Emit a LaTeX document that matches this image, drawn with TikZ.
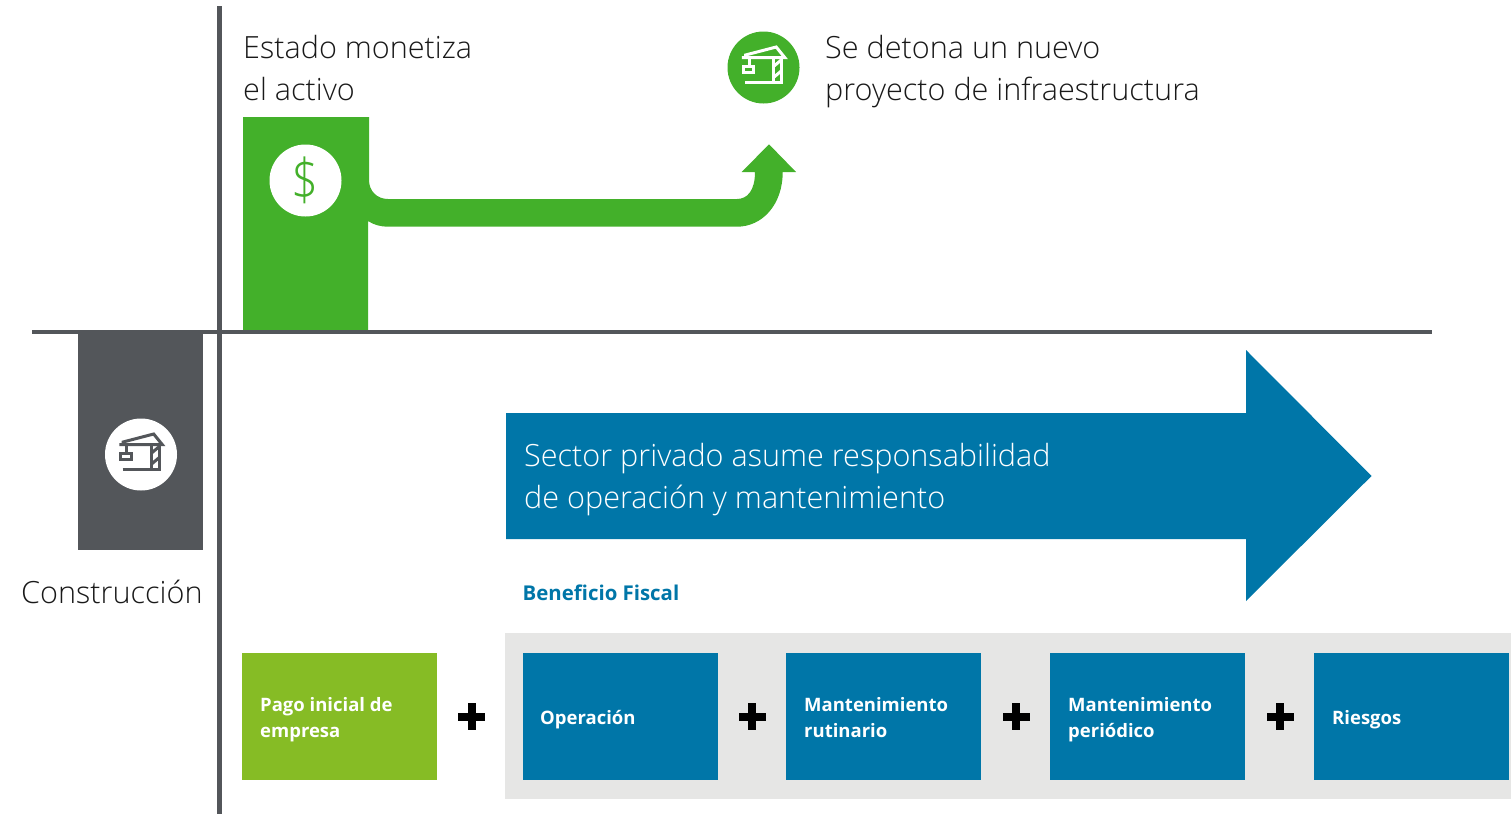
\documentclass[tikz,border=0pt]{standalone}
\usepackage{graphicx}
\usepackage{fontspec}
\setmainfont{Open Sans}
\newfontfamily\lightf{Open Sans Light}
\definecolor{grn}{HTML}{43B02A}
\definecolor{lime}{HTML}{86BC25}
\definecolor{blu}{HTML}{0076A8}
\definecolor{drk}{HTML}{53565A}
\definecolor{pnl}{HTML}{E6E6E5}
\tikzset{
  x=1pt,y=-1pt,
  bigtxt/.style={anchor=base west,inner sep=0pt,align=left,font=\fontsize{30.6}{42}\selectfont\lightf,text=black!90},
  whitetxt/.style={text=white},
  boxtxt/.style={fill=#1,minimum width=195pt,minimum height=127pt,inner sep=0pt,anchor=north west},
  boxlabel/.style={anchor=base west,inner sep=0pt,align=left,text=white,font=\fontsize{18.5}{26}\selectfont\bfseries},
  disc/.style={circle,minimum size=72pt,inner sep=0pt,fill=#1},
  crane/.pic={
    \begin{scope}[draw=#1,line width=3pt,line join=miter]
      \draw (-21.7,-10) -- (21.2,-10) -- (12.7,-20.5) -- (-18,-12.5) -- (-18,-10);
      \draw (10,-10) -- (10,14.7);
      \draw (18.3,-10) -- (18.3,16);
      \draw (-18.3,14.7) -- (19.5,14.7);
      \draw (-14.3,-10) -- (-14.3,-2.7);
      \draw (-20.2,-1.2) rectangle (-9.8,5.2);
      \draw (10,-1) -- (18.3,-8);
      \draw (10,10) -- (18.3,3);
    \end{scope}
  },
  plussign/.pic={
    \fill[black] (-13.5,-4.5) rectangle (13.5,3.5);
    \fill[black] (-4,-14) rectangle (4,13);
  }
}
\begin{document}
\begin{tikzpicture}
\useasboundingbox (0,0) rectangle (1511,814);
% green arrow
\fill[grn] (243,117) -- (369,117) -- (369,180)
  .. controls (369,191) and (377,199) .. (388,199)
  -- (737,199) .. controls (747,199) and (755,191) .. (755,172)
  -- (741.7,172) -- (769,144.3) -- (796,172) -- (782.7,172)
  .. controls (782.7,205) and (762,226.7) .. (737,226.7)
  -- (388,226.7) .. controls (381,226.7) and (374,225) .. (368,221)
  -- (368,331) -- (243,331) -- cycle;
\node[disc=white] (dollar) at (305.5,180.5) {\scalebox{0.95}[1.15]{\fontsize{50}{50}\selectfont\lightf\textcolor{grn}{\$}}};
\node[disc=grn] (topcrane) at (763.5,67.5) {};
\pic at (topcrane.center) {crane=white};
% dark block
\fill[drk] (78,332) rectangle (203,550);
\node[disc=white] (lowcrane) at (141,454.5) {};
\pic at (lowcrane.center) {crane=drk};
% axes
\draw[drk,line width=4.5pt] (219.5,6) -- (219.5,814);
\draw[drk,line width=4.5pt] (32,332) -- (1432,332);
% text
\node[bigtxt] (t1) at (243,100) {Estado monetiza\\el activo};
\node[bigtxt] (t2) at (825,100) {Se detona un nuevo\\proyecto de infraestructura};
\node[bigtxt] (t3) at (21,603) {Construcción};
% blue arrow
\fill[blu] (506,413) -- (1246,413) -- (1246,350) -- (1371.5,476) -- (1246,601) -- (1246,539) -- (506,539) -- cycle;
\node[bigtxt,whitetxt] (t4) at (524,508) {Sector privado asume responsabilidad\\de operación y mantenimiento};
\node[anchor=base west,inner sep=0pt,text=blu,font=\fontsize{20.4}{24}\selectfont\bfseries] (t5) at (522.5,600) {Beneficio Fiscal};
% panel
\fill[pnl] (505,633) rectangle (1511,799);
\node[boxtxt=lime] (b1) at (242,653) {};
\node[boxtxt=blu] (b2) at (523,653) {};
\node[boxtxt=blu] (b3) at (786,653) {};
\node[boxtxt=blu] (b4) at (1050,653) {};
\node[boxtxt=blu] (b5) at (1314,653) {};
\node[boxlabel] (l1) at (260,737) {Pago inicial de\\empresa};
\node[boxlabel] (l2) at (540,724) {Operación};
\node[boxlabel] (l3) at (804,737) {Mantenimiento\\rutinario};
\node[boxlabel] (l4) at (1068,737) {Mantenimiento\\periódico};
\node[boxlabel] (l5) at (1332,724) {Riesgos};
\pic at (471.5,717) {plussign};
\pic at (752,717) {plussign};
\pic at (1016,717) {plussign};
\pic at (1280,717) {plussign};
\end{tikzpicture}
\end{document}
